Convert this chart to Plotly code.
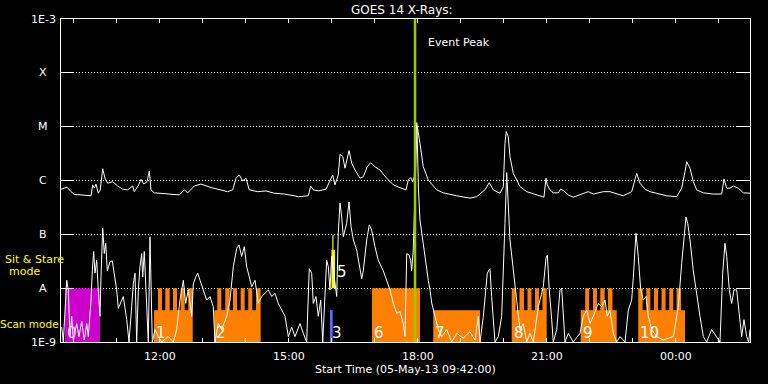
import pandas as pd
import numpy as np
import plotly.graph_objects as go

START = "2013-05-05 09:42:00"
SPAN_MIN = 961.4
EVENT_PEAK_MIN = 494.0

# GOES long channel (1-8 A): minutes after start, flux W/m^2
LONG_MIN = [0.0, 8.4, 14.0, 18.6, 27.9, 41.9, 44.2, 46.5, 48.8, 52.0, 54.8, 58.2, 61.4, 65.2, 72.1, 79.1,
            86.1, 93.1, 100.0, 102.3, 108.4, 111.6, 115.4, 120.0, 123.2, 125.6, 130.2, 139.5, 153.5, 165.1,
            172.0, 176.8, 186.0, 195.3, 209.3, 223.3, 232.6, 239.6, 244.2, 248.8, 253.5, 258.1, 262.7, 274.5,
            286.0, 297.6, 311.6, 325.5, 331.1, 345.1, 348.4, 352.0, 359.0, 369.8, 375.3, 379.1, 382.3, 386.9,
            389.3, 393.1, 396.3, 399.5, 401.9, 405.6, 410.2, 417.2, 421.8, 427.4, 432.1, 438.1, 445.1, 454.5,
            463.7, 473.0, 481.4, 484.6, 487.9, 490.7, 493.0, 496.3, 498.5, 500.9, 505.5, 512.5, 524.2, 533.4,
            552.1, 570.7, 580.0, 591.6, 597.6, 603.2, 612.6, 617.2, 619.5, 621.3, 624.1, 626.5, 631.1, 640.5,
            649.8, 659.0, 668.3, 673.9, 676.7, 678.5, 682.3, 686.9, 693.9, 697.2, 701.9, 707.8, 714.8, 724.2,
            735.7, 742.7, 756.7, 766.0, 775.4, 784.6, 796.3, 800.9, 803.3, 807.9, 814.9, 821.9, 831.2, 845.2,
            859.1, 866.1, 870.7, 873.1, 877.7, 882.3, 887.0, 896.2, 910.2, 921.9, 925.1, 928.9, 933.5, 938.1,
            945.1, 952.1, 961.4]
LONG_FLUX = [6.9e-7, 7.5e-7, 6.2e-7, 5.5e-7, 5.4e-7, 5.2e-7, 8.3e-7, 7.2e-7, 8.6e-7, 5.8e-7, 6.7e-7, 1.66e-6,
             1.10e-6, 8.9e-7, 9.5e-7, 7.9e-7, 6.9e-7, 6.7e-7, 7.9e-7, 6.2e-7, 8.3e-7, 1.05e-6, 8.6e-7, 9.5e-7,
             1.50e-6, 6.7e-7, 5.9e-7, 5.8e-7, 5.5e-7, 5.4e-7, 6.7e-7, 5.9e-7, 7.9e-7, 8.6e-7, 7.4e-7, 6.7e-7,
             6.2e-7, 6.7e-7, 1.10e-6, 1.27e-6, 9.8e-7, 1.10e-6, 6.7e-7, 6.2e-7, 6.4e-7, 5.8e-7, 5.6e-7, 5.2e-7,
             5.0e-7, 5.2e-7, 7.9e-7, 6.7e-7, 6.4e-7, 6.9e-7, 1.02e-6, 1.27e-6, 8.3e-7, 1.27e-6, 3.05e-6, 2.8e-6,
             1.69e-6, 2.6e-6, 3.6e-6, 2.1e-6, 1.57e-6, 1.10e-6, 1.18e-6, 1.80e-6, 2.14e-6, 1.80e-6, 1.57e-6,
             1.10e-6, 8.3e-7, 7.35e-7, 6.7e-7, 1.02e-6, 1.13e-6, 9.5e-7, 1.18e-6, 1.19e-5, 7.0e-6, 4.9e-6,
             1.8e-6, 1.02e-6, 6.7e-7, 5.9e-7, 5.2e-7, 4.7e-7, 5.0e-7, 6.7e-7, 9.1e-7, 6.7e-7, 5.8e-7, 7.7e-7,
             4.9e-6, 8.1e-6, 6.5e-6, 2.77e-6, 1.36e-6, 7.7e-7, 6.2e-7, 5.6e-7, 5.2e-7, 4.9e-7, 1.10e-6, 8.3e-7,
             6.7e-7, 5.9e-7, 5.9e-7, 6.9e-7, 6.4e-7, 5.4e-7, 4.9e-7, 5.4e-7, 6.2e-7, 5.6e-7, 6.2e-7, 6.2e-7,
             5.6e-7, 5.2e-7, 6.2e-7, 1.02e-6, 1.36e-6, 8.9e-7, 6.9e-7, 6.2e-7, 5.8e-7, 5.2e-7, 5.0e-7, 7.2e-7,
             1.46e-6, 2.23e-6, 1.69e-6, 9.5e-7, 6.7e-7, 5.9e-7, 5.6e-7, 5.6e-7, 1.07e-6, 7.2e-7, 7.2e-7,
             7.9e-7, 7.2e-7, 5.9e-7, 5.8e-7]

# GOES short channel (0.5-4 A)
SHORT_MIN = [1.0, 3.2, 8.0, 10.2, 12.6, 14.9, 17.2, 21.9, 25.1, 28.9, 32.5, 35.9, 38.1, 41.9, 43.7, 45.6, 47.4,
             49.8, 52.0, 54.4, 55.8, 58.2, 60.4, 62.4, 64.6, 68.4, 71.6, 74.4, 77.7, 80.0, 84.7, 86.9, 91.7,
             94.9, 98.6, 100.9, 103.3, 105.6, 107.9, 110.2, 112.6, 114.0, 116.2, 118.2, 121.8, 124.2, 127.4,
             131.2, 135.8, 140.5, 149.7, 156.7, 161.4, 166.0, 170.7, 174.0, 177.6, 182.4, 184.6, 188.0, 190.7,
             194.0, 198.6, 203.3, 207.9, 212.5, 214.9, 219.5, 224.2, 231.2, 235.8, 240.4, 245.2, 248.4, 252.1,
             255.8, 259.1, 262.3, 266.1, 270.7, 275.3, 280.0, 284.6, 289.3, 294.0, 298.6, 303.2, 307.9, 312.6,
             317.2, 321.9, 326.5, 333.5, 338.1, 342.8, 346.4, 349.8, 352.0, 355.8, 359.0, 362.4, 365.2, 368.4,
             370.7, 373.0, 375.3, 377.7, 379.9, 382.3, 384.7, 386.9, 389.3, 391.7, 393.9, 398.6, 401.9, 404.7,
             407.9, 412.6, 417.2, 419.6, 421.8, 426.6, 430.2, 433.5, 438.1, 442.7, 449.7, 454.5, 459.1, 463.7,
             468.4, 473.0, 477.6, 480.0, 482.4, 485.6, 487.9, 489.3, 491.5, 496.7, 498.8, 500.9, 503.3, 505.5,
             510.3, 512.5, 514.9, 517.3, 521.9, 526.5, 531.2, 538.2, 545.2, 552.1, 561.3, 570.7, 577.7, 582.3,
             584.7, 589.3, 594.8, 598.6, 600.9, 605.6, 610.2, 614.9, 619.5, 621.9, 626.5, 631.1, 635.8, 640.5,
             645.1, 649.8, 654.4, 659.0, 666.0, 673.0, 676.7, 678.6, 681.3, 684.7, 686.9, 691.7, 696.3, 698.6,
             700.9, 703.3, 707.9, 714.8, 724.2, 728.8, 733.5, 738.1, 742.7, 749.7, 754.5, 759.1, 762.3, 766.0,
             770.7, 775.4, 780.0, 787.0, 791.6, 796.3, 798.6, 802.3, 805.5, 808.9, 812.5, 816.3, 819.5, 824.2,
             831.2, 840.4, 854.4, 861.3, 866.1, 869.3, 872.1, 874.5, 877.7, 882.3, 887.0, 891.6, 896.3, 900.9,
             907.9, 914.9, 919.5, 923.3, 926.5, 928.9, 932.5, 935.8, 939.1, 942.8, 946.5, 949.8, 953.0, 956.8,
             959.6, 961.4]
SHORT_FLUX = [1.9e-9, 1.0e-9, 1.4e-8, 9.3e-9, 1.26e-9, 3.0e-9, 1.09e-9, 2.2e-9, 1.26e-9, 2.4e-9, 1.09e-9,
              2.2e-9, 1.26e-9, 6.0e-9, 2.1e-8, 4.8e-8, 1.9e-8, 3.3e-8, 9.3e-9, 3.0e-9, 1.6e-8, 1.3e-7, 4.4e-8,
              6.8e-8, 2.1e-8, 3.1e-8, 3.2e-8, 1.9e-8, 9.3e-9, 4.2e-9, 6.0e-9, 7.0e-9, 2.6e-9, 1.0e-9, 4.5e-9,
              1.2e-8, 1.9e-8, 1.0e-9, 9.3e-9, 2.5e-8, 4.4e-8, 1.6e-8, 4.8e-8, 9.3e-9, 1.0e-9, 9.0e-8, 1.0e-9,
              1.7e-9, 1.26e-9, 1.0e-9, 1.26e-9, 1.0e-9, 1.7e-9, 6.0e-9, 1.4e-8, 5.2e-9, 9.3e-9, 3.0e-9, 1.2e-8,
              1.6e-8, 1.9e-8, 1.4e-8, 9.3e-9, 6.0e-9, 7.0e-9, 4.5e-9, 1.0e-9, 2.2e-9, 1.7e-9, 3.0e-9, 6.0e-9,
              2.5e-8, 5.5e-8, 6.3e-8, 3.9e-8, 5.9e-8, 2.5e-8, 1.6e-8, 1.07e-8, 1.4e-8, 5.2e-9, 7.0e-9, 8.0e-9,
              9.3e-9, 7.0e-9, 8.0e-9, 5.2e-9, 3.9e-9, 3.0e-9, 1.26e-9, 1.9e-9, 1.26e-9, 2.2e-9, 1.45e-9, 1.0e-9,
              2.3e-8, 1.9e-8, 5.2e-9, 7.0e-9, 3.0e-9, 6.0e-9, 1.0e-9, 9.3e-9, 3.3e-8, 2.5e-8, 9.3e-9, 3.9e-8,
              2.1e-8, 1.4e-8, 7.0e-9, 1.05e-7, 3.8e-7, 2.1e-7, 9.0e-8, 1.6e-7, 4.0e-7, 1.4e-7, 7.9e-8, 5.1e-8,
              2.5e-8, 1.5e-8, 2.1e-8, 7.9e-8, 1.5e-7, 1.2e-7, 5.9e-8, 3.3e-8, 2.1e-8, 1.4e-8, 9.3e-9, 5.2e-9,
              3.4e-9, 3.7e-9, 2.2e-9, 1.26e-9, 4.4e-8, 4.1e-8, 3.3e-8, 2.1e-8, 5.1e-8, 1.0e-5, 6.7e-7, 1.85e-7,
              1.05e-7, 6.8e-8, 2.5e-8, 1.4e-8, 9.3e-9, 5.3e-9, 3.0e-9, 1.7e-9, 1.26e-9, 1.7e-9, 1.0e-9, 1.45e-9,
              1.18e-9, 1.55e-9, 1.09e-9, 3.0e-9, 1.0e-9, 3.0e-9, 1.9e-8, 2.3e-8, 7.0e-9, 1.0e-9, 1.26e-9, 3.0e-9,
              1.6e-7, 1.4e-6, 7.9e-8, 1.9e-8, 6.0e-9, 1.7e-9, 2.2e-9, 1.0e-9, 1.45e-9, 1.0e-9, 4.5e-9, 1.07e-8,
              3.6e-8, 4.1e-8, 9.3e-9, 2.6e-9, 1.0e-9, 1.7e-9, 9.3e-9, 1.0e-8, 3.9e-9, 1.0e-9, 1.45e-9, 1.0e-9,
              1.45e-9, 3.0e-9, 3.9e-9, 2.2e-9, 3.0e-9, 5.2e-9, 4.5e-9, 6.0e-9, 3.0e-9, 3.9e-9, 1.45e-9, 1.0e-9,
              1.26e-9, 1.0e-9, 3.9e-9, 6.0e-9, 1.6e-8, 1.05e-7, 3.9e-8, 9.3e-9, 6.0e-9, 7.0e-9, 3.0e-9, 1.7e-9,
              1.26e-9, 1.09e-9, 1.26e-9, 4.5e-9, 2.9e-8, 7.9e-8, 2.1e-7, 1.6e-7, 7.9e-8, 2.1e-8, 7.0e-9, 3.0e-9,
              1.26e-9, 1.0e-9, 1.7e-9, 1.26e-9, 1.0e-9, 1.9e-8, 6.8e-8, 3.9e-8, 9.3e-9, 5.2e-9, 9.3e-9, 9.3e-9,
              3.0e-9, 1.26e-9, 2.6e-9, 1.26e-9, 1.0e-9, 1.7e-9]

# Observation blocks (minutes after start)
FLOOR = 1e-9
SIT_STARE_LEVEL = 1e-8
SCAN_LEVEL = 3.9e-9
MAGENTA_BLOCKS = [(5.6, 54.4, 1e-8)]
ORANGE_BLOCKS = [(129.8, 183.8, 3.9e-9), (213.9, 278.6, 3.9e-9), (434.0, 500.9, 1e-8),
                 (519.5, 584.6, 3.9e-9), (628.9, 677.7, 3.9e-9), (725.2, 775.4, 3.9e-9),
                 (805.5, 870.7, 3.9e-9)]
ORANGE_TEETH = [(135.3, 140.9), (145.5, 151.7), (156.3, 161.9), (167.0, 172.6), (177.6, 183.8),
                (218.1, 223.7), (229.2, 235.4), (240.0, 245.6), (250.7, 256.3), (261.3, 266.9), (272.1, 278.6),
                (628.9, 634.4), (639.7, 646.0), (650.9, 656.5), (661.4, 667.0), (671.8, 677.7),
                (731.4, 737.0), (742.3, 747.9), (752.5, 758.6), (763.2, 769.5),
                (805.5, 811.6), (816.7, 822.3), (827.4, 833.0), (838.0, 843.6), (848.7, 854.3), (858.9, 865.1)]
YELLOW_BLOCKS = [(377.4, 382.3, 1e-8, 5.1e-8), (378.6, 380.2, 5.1e-8, 9.7e-8)]
BLUE_BLOCKS = [(375.3, 379.1, 1e-9, 3.9e-9)]

BLOCK_LABELS = ["0", "1", "2", "3", "6", "7", "8", "9", "10"]
BLOCK_LABEL_MIN = [5.6, 129.8, 213.9, 375.3, 434.0, 519.5, 628.9, 725.2, 805.5]
YELLOW_LABEL = "5"

Y_LEVELS = [1e-9, 1e-8, 1e-7, 1e-6, 1e-5, 1e-4, 1e-3]
Y_LABELS = ["1E-9", "A", "B", "C", "M", "X", "1E-3"]
HOUR_TICKS = ["2013-05-05 10:00", "2013-05-05 11:00", "2013-05-05 12:00", "2013-05-05 13:00",
              "2013-05-05 14:00", "2013-05-05 15:00", "2013-05-05 16:00", "2013-05-05 17:00",
              "2013-05-05 18:00", "2013-05-05 19:00", "2013-05-05 20:00", "2013-05-05 21:00",
              "2013-05-05 22:00", "2013-05-05 23:00", "2013-05-06 00:00", "2013-05-06 01:00"]
HOUR_TEXT = ["", "", "12:00", "", "", "15:00", "", "", "18:00", "", "", "21:00", "", "", "00:00", ""]

t0 = pd.Timestamp(START)


def tm(m):
    return t0 + pd.Timedelta(minutes=float(m))


def rects(items):
    xs, ys = [], []
    for a, b, lo, hi in items:
        xs += [tm(a), tm(b), tm(b), tm(a), tm(a), None]
        ys += [lo, lo, hi, hi, lo, None]
    return xs, ys


fig = go.Figure()

FONT = "DejaVu Sans, Liberation Sans, sans-serif"

mx, my = rects([(a, b, FLOOR, h) for a, b, h in MAGENTA_BLOCKS])
fig.add_trace(go.Scatter(x=mx, y=my, fill="toself", fillcolor="#cc00cc", mode="none", hoverinfo="skip"))
ox, oy = rects([(a, b, FLOOR, h) for a, b, h in ORANGE_BLOCKS] +
               [(a, b, FLOOR, SIT_STARE_LEVEL) for a, b in ORANGE_TEETH])
fig.add_trace(go.Scatter(x=ox, y=oy, fill="toself", fillcolor="#ff8000", mode="none", hoverinfo="skip"))
yx, yy = rects(YELLOW_BLOCKS)
fig.add_trace(go.Scatter(x=yx, y=yy, fill="toself", fillcolor="#ffff00", mode="none", hoverinfo="skip"))
bx, by = rects(BLUE_BLOCKS)
fig.add_trace(go.Scatter(x=bx, y=by, fill="toself", fillcolor="#6464ff", mode="none", hoverinfo="skip"))

fig.add_trace(go.Scatter(x=[tm(m) for m in SHORT_MIN], y=SHORT_FLUX, mode="lines",
                         line=dict(color="white", width=1), hoverinfo="skip"))
fig.add_trace(go.Scatter(x=[tm(m) for m in LONG_MIN], y=LONG_FLUX, mode="lines",
                         line=dict(color="white", width=1), hoverinfo="skip"))
fig.add_trace(go.Scatter(x=[tm(EVENT_PEAK_MIN), tm(EVENT_PEAK_MIN)], y=[1e-9, 1e-3], mode="lines",
                         line=dict(color="#99cc00", width=2.5), hoverinfo="skip"))

ann = []
# y labels centred left of axis
for v, lab in zip(Y_LEVELS, Y_LABELS):
    ann.append(dict(x=-18 / 689, xref="paper", y=np.log10(v), yref="y", text=lab, showarrow=False,
                    xanchor="center", yanchor="middle", font=dict(size=11, color="white", family=FONT)))
ann.append(dict(x=(401.7 - 61) / 689, xref="paper", y=(342 - 10) / 323, yref="paper", text="GOES 14 X-Rays:",
                showarrow=False, xanchor="center", yanchor="middle",
                font=dict(size=12, color="white", family=FONT)))
ann.append(dict(x=0.5, xref="paper", y=(342 - 369) / 323, yref="paper",
                text="Start Time (05-May-13 09:42:00)", showarrow=False, xanchor="center", yanchor="middle",
                font=dict(size=11, color="white", family=FONT)))
ann.append(dict(x=tm(EVENT_PEAK_MIN), xref="x", xshift=11, y=(342 - 43) / 323, yref="paper",
                text="Event Peak", showarrow=False, xanchor="left", yanchor="middle",
                font=dict(size=11, color="white", family=FONT)))
ann.append(dict(x=(34.5 - 61) / 689, xref="paper", y=(342 - 259) / 323, yref="paper", text="Sit & Stare",
                showarrow=False, xanchor="center", yanchor="middle", font=dict(size=11, color="#ffff00", family=FONT)))
ann.append(dict(x=(24.3 - 61) / 689, xref="paper", y=(342 - 271) / 323, yref="paper", text="mode",
                showarrow=False, xanchor="center", yanchor="middle", font=dict(size=11, color="#ffff00", family=FONT)))
ann.append(dict(x=(29.5 - 61) / 689, xref="paper", y=(342 - 324) / 323, yref="paper", text="Scan mode",
                showarrow=False, xanchor="center", yanchor="middle", font=dict(size=10.5, color="#ffff00", family=FONT)))
for lab, m in zip(BLOCK_LABELS, BLOCK_LABEL_MIN):
    ann.append(dict(x=tm(m), xref="x", xshift=0, y=(342 - 333) / 323, yref="paper", text=lab,
                    showarrow=False, xanchor="left", yanchor="middle",
                    font=dict(size=15, color="#ffc8ff" if lab == "0" else "white", family=FONT)))
ann.append(dict(x=tm(YELLOW_BLOCKS[0][1]), xref="x", y=(342 - 271.7) / 323, yref="paper", text=YELLOW_LABEL,
                showarrow=False, xanchor="left", yanchor="middle", font=dict(size=15, color="white", family=FONT)))

fig.update_layout(
    width=768, height=384,
    margin=dict(l=61, r=18, t=19, b=42),
    paper_bgcolor="black", plot_bgcolor="black",
    showlegend=False,
    annotations=ann,
    xaxis=dict(type="date", range=[tm(0), tm(SPAN_MIN)], showgrid=False, zeroline=False,
               showline=True, linecolor="white", linewidth=1, mirror="allticks",
               ticks="inside", ticklen=4, tickcolor="white", tickwidth=1,
               tickvals=[pd.Timestamp(h) for h in HOUR_TICKS], ticktext=HOUR_TEXT,
               ticklabelstandoff=4,
               tickfont=dict(size=11, color="white", family=FONT)),
    yaxis=dict(type="log", range=[-9, -3], showline=True, linecolor="white", linewidth=1, mirror="allticks",
               ticks="inside", ticklen=13, tickcolor="white", tickwidth=1, tickvals=Y_LEVELS,
               showticklabels=False, showgrid=True, gridcolor="white", gridwidth=1, griddash="1px,2px",
               zeroline=False),
)

fig.write_html("out.html", config={"displayModeBar": False},
               post_script="document.body.style.margin='0';document.body.style.padding='0';"
                           "document.body.style.overflow='hidden';document.body.style.background='black';")
